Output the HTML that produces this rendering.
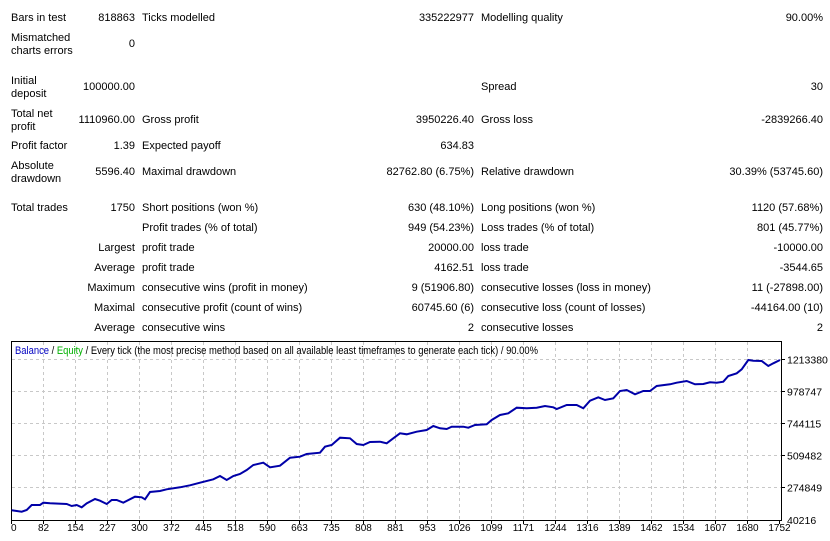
<!DOCTYPE html>
<html><head><meta charset="utf-8"><style>
body{margin:0;width:830px;height:541px;background:#fff;position:relative;overflow:hidden;font-family:"Liberation Sans",sans-serif;font-size:11px;color:#000}
.t{position:absolute;line-height:13px;white-space:nowrap}
.r{text-align:right}
</style></head><body>
<div id="tx"></div>
<svg width="830" height="541" style="position:absolute;left:0;top:0" id="ch">
</svg>
<script>
var rows=[
[17,"Bars in test","818863","Ticks modelled","335222977","Modelling quality","90.00%"],
[43,"Mismatched<br>charts errors","0","","","",""],
[86,"Initial<br>deposit","100000.00","","","Spread","30"],
[119,"Total net<br>profit","1110960.00","Gross profit","3950226.40","Gross loss","-2839266.40"],
[145,"Profit factor","1.39","Expected payoff","634.83","",""],
[171,"Absolute<br>drawdown","5596.40","Maximal drawdown","82762.80 (6.75%)","Relative drawdown","30.39% (53745.60)"],
[207,"Total trades","1750","Short positions (won %)","630 (48.10%)","Long positions (won %)","1120 (57.68%)"],
[227,"","","Profit trades (% of total)","949 (54.23%)","Loss trades (% of total)","801 (45.77%)"],
[247,"","Largest","profit trade","20000.00","loss trade","-10000.00"],
[267,"","Average","profit trade","4162.51","loss trade","-3544.65"],
[287,"","Maximum","consecutive wins (profit in money)","9 (51906.80)","consecutive losses (loss in money)","11 (-27898.00)"],
[307,"","Maximal","consecutive profit (count of wins)","60745.60 (6)","consecutive loss (count of losses)","-44164.00 (10)"],
[327,"","Average","consecutive wins","2","consecutive losses","2"]];
var h="";
rows.forEach(function(r){
 var y=r[0]+2,two=r[1].indexOf("<br>")>=0,top=two?y-13:y-7;
 h+='<div class="t" style="left:11px;top:'+top+'px">'+r[1]+'</div>';
 h+='<div class="t r" style="right:695px;top:'+(y-7)+'px">'+r[2]+'</div>';
 h+='<div class="t" style="left:142px;top:'+(y-7)+'px">'+r[3]+'</div>';
 h+='<div class="t r" style="right:356px;top:'+(y-7)+'px">'+r[4]+'</div>';
 h+='<div class="t" style="left:481px;top:'+(y-7)+'px">'+r[5]+'</div>';
 h+='<div class="t r" style="right:7px;top:'+(y-7)+'px">'+r[6]+'</div>';
});
document.getElementById("tx").innerHTML=h;
var s='<rect x="11.5" y="341.5" width="770" height="179" fill="#fff" stroke="#000"/>';
var xl=[0,82,154,227,300,372,445,518,590,663,735,808,881,953,1026,1099,1171,1244,1316,1389,1462,1534,1607,1680,1752];
for(var i=1;i<24;i++){var x=11.5+32*i;s+='<line x1="'+x+'" y1="342" x2="'+x+'" y2="520" stroke="#c8c8c8" stroke-dasharray="3,3"/>';}
var yv=[1213380,978747,744115,509482,274849];
for(var j=0;j<5;j++){var y=359.5+32*j;s+='<line x1="12" y1="'+y+'" x2="781" y2="'+y+'" stroke="#c8c8c8" stroke-dasharray="3,3"/>';
 s+='<line x1="781" y1="'+y+'" x2="785" y2="'+y+'" stroke="#000"/><text x="787" y="'+(y+4)+'" font-size="10.5">'+yv[j]+'</text>';}
s+='<text x="787" y="524" font-size="10.5">40216</text>';
for(var i=0;i<25;i++){var x=11.5+32*i;s+='<line x1="'+x+'" y1="520" x2="'+x+'" y2="524" stroke="#000"/><text x="'+(i==0?11:x)+'" y="531" font-size="10" text-anchor="'+(i==0?"start":"middle")+'">'+xl[i]+'</text>';}
s+='<text x="15" y="354" font-size="11" textLength="523" lengthAdjust="spacingAndGlyphs"><tspan fill="#0000c0">Balance</tspan> / <tspan fill="#00b000">Equity</tspan> / Every tick (the most precise method based on all available least timeframes to generate each tick) / 90.00%</text>';
var a=[[35,541],[65,545],[80,540],[95,525],[120,525],[130,518],[150,520],[200,522],[215,528],[230,525],[245,532],[260,520],[285,507],[300,512],[320,522],[335,510],[350,510],[370,518],[405,500],[425,502],[435,508],[450,486],[480,483],[500,478],[540,472],[570,466],[600,458],[640,448],[660,438],[680,450],[700,438],[720,432],[740,420],[760,405],[790,398],[810,412],[840,407],[870,383],[900,380],[920,372],[960,368],[975,350],[995,345],[1020,323],[1050,325],[1070,342],[1090,345],[1110,336],[1140,335],[1160,340],[1180,325],[1200,310],[1220,313],[1250,305]];
var b=[[20,300],[40,288],[60,295],[80,297],[95,290],[130,290],[145,293],[165,285],[200,283],[215,270],[240,255],[265,250],[290,233],[320,235],[350,233],[375,228],[400,232],[410,237],[440,225],[470,225],[490,235],[510,212],[535,202],[555,210],[580,205],[600,183],[620,180],[645,193],[670,183],[690,183],[710,168],[750,163],[770,158],[800,153],[825,163],[850,162],[870,157],[890,158],[910,155],[925,138],[950,130],[965,118],[985,90],[1000,92],[1025,93],[1045,108],[1060,100],[1080,90]];
var p=a.map(function(q){return (q[0]/3).toFixed(1)+","+(q[1]/3+330).toFixed(1)}).concat(b.map(function(q){return (q[0]/3+420).toFixed(1)+","+(q[1]/3+330).toFixed(1)}));
s+='<polyline points="'+p.join(" ")+'" fill="none" stroke="#0000a8" stroke-width="2"/>';
document.getElementById("ch").innerHTML=s;
</script>
</body></html>
